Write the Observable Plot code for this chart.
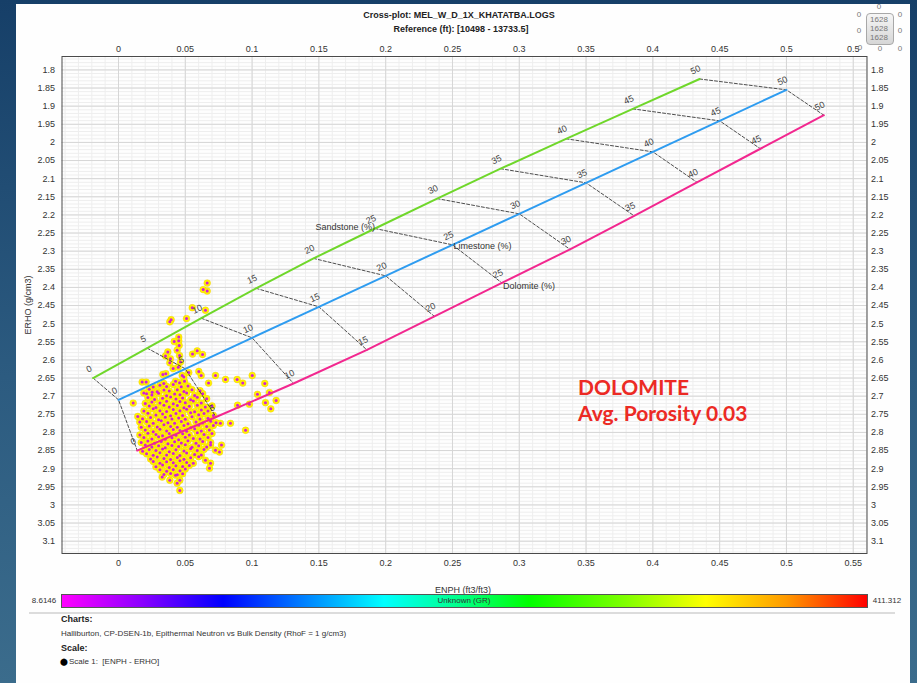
<!DOCTYPE html>
<html><head><meta charset="utf-8">
<script src="https://cdn.jsdelivr.net/npm/d3@7"></script>
<script src="https://cdn.jsdelivr.net/npm/@observablehq/plot@0.6"></script>
<style>
body{margin:0;width:917px;height:683px;overflow:hidden;position:relative;background:linear-gradient(#163f68,#2c5b80 55%,#3b6c8c);font-family:"Liberation Sans",Arial,sans-serif;}
#panel{position:absolute;left:16px;top:4px;width:894px;height:679px;background:#fefefe;}
#chart{position:absolute;left:0;top:0;}
.t{position:absolute;white-space:nowrap;color:#333;line-height:1;}
.c{transform:translate(-50%,-50%);}
</style></head><body>
<div id="panel"></div>
<div id="chart"></div>
<script>
// ---------- data ----------
const porosity = [0,5,10,15,20,25,30,35,40,45,50];
const sandEnph = [-0.019,0.0215,0.062,0.103,0.146,0.192,0.2385,0.286,0.335,0.385,0.435];
const sandRho  = [2.65,2.5675,2.485,2.4025,2.32,2.2375,2.155,2.0725,1.99,1.9075,1.825];
const limeEnph = [0,0.05,0.1,0.15,0.2,0.25,0.3,0.35,0.4,0.45,0.5];
const limeRho  = [2.71,2.6245,2.539,2.4535,2.368,2.2825,2.197,2.1115,2.026,1.9405,1.855];
const doloEnph = [0.014,0.073,0.131,0.186,0.2365,0.287,0.338,0.386,0.433,0.4805,0.528];
const doloRho  = [2.85,2.7575,2.665,2.5725,2.48,2.3875,2.295,2.2025,2.11,2.0175,1.925];

const xTicks = [0,0.05,0.1,0.15,0.2,0.25,0.3,0.35,0.4,0.45,0.5,0.55];
const yTicks = [1.8,1.85,1.9,1.95,2,2.05,2.1,2.15,2.2,2.25,2.3,2.35,2.4,2.45,2.5,2.55,2.6,2.65,2.7,2.75,2.8,2.85,2.9,2.95,3,3.05,3.1];
const topTickLabels = ["0","0.05","0.1","0.15","0.2","0.25","0.3","0.35","0.4","0.45","0.5","0.5"];

const colorStops = ["#ff00ff","#8a00ff","#0000ff","#0080ff","#00ffff","#00ff80","#00ff00","#80ff00","#ffff00","#ff9900","#ff0000"];
const colorStopPos = [0,0.1,0.2,0.3,0.4,0.5,0.58,0.7,0.8,0.9,1];
const grMin = "8.6146", grMax = "411.312";

// ENPH / ERHO samples (cloud)
const cloud = [
[0.0664,2.388],[0.0634,2.406],[0.0664,2.410],[0.0552,2.456],[0.0651,2.463],[0.0509,2.486],[0.0394,2.489],[0.0384,2.495],
[0.0451,2.537],[0.0451,2.547],[0.0417,2.549],[0.0454,2.560],[0.0369,2.578],[0.0439,2.573],[0.0554,2.584],[0.0589,2.575],
[0.0629,2.585],[0.0352,2.589],[0.0389,2.597],[0.0457,2.588],[0.0464,2.606],[0.0384,2.608],[0.0409,2.624],[0.0447,2.620],
[0.0332,2.640],[0.0354,2.638],[0.0477,2.643],[0.0526,2.635],[0.0601,2.632],[0.0619,2.643],[0.0726,2.643],[0.0801,2.654],
[0.0888,2.654],[0.1001,2.643],[0.0930,2.664],[0.1095,2.665],[0.0177,2.661],[0.0207,2.661],[0.0339,2.665],[0.0427,2.659],
[0.0457,2.663],[0.0494,2.659],[0.0489,2.647],[0.0674,2.664],[0.1130,2.690],[0.1040,2.695],[0.1180,2.712],[0.1100,2.718],
[0.0980,2.722],[0.1140,2.735],[0.0891,2.725],[0.0838,2.775],[0.0763,2.775],[0.0951,2.794],[0.0689,2.835],[0.0771,2.835],
[0.0756,2.854],[0.0726,2.849],[0.0689,2.885],[0.0681,2.899],[0.0651,2.877],[0.0459,2.932],[0.0439,2.940],[0.0459,2.960],
[0.0427,2.918],[0.0327,2.923],[0.0384,2.932],[0.0110,2.719],[0.0144,2.756],[0.0159,2.771],[0.0189,2.691],[0.0210,2.693],
[0.0252,2.689],
[0.026,2.675],[0.031,2.670],[0.036,2.673],[0.041,2.668],[0.047,2.674],[0.052,2.672],
[0.023,2.681],[0.029,2.688],[0.034,2.683],[0.038,2.686],[0.044,2.682],[0.049,2.687],[0.055,2.682],[0.061,2.685],
[0.025,2.697],[0.030,2.692],[0.036,2.699],[0.042,2.694],[0.046,2.696],[0.051,2.691],[0.057,2.698],[0.063,2.693],
[0.022,2.704],[0.027,2.709],[0.033,2.706],[0.039,2.702],[0.043,2.708],[0.048,2.705],[0.054,2.710],[0.059,2.703],[0.066,2.707],
[0.020,2.720],[0.025,2.716],[0.031,2.719],[0.036,2.714],[0.041,2.721],[0.046,2.715],[0.050,2.718],[0.056,2.713],[0.062,2.719],
[0.023,2.727],[0.028,2.731],[0.034,2.725],[0.038,2.730],[0.044,2.726],[0.049,2.732],[0.053,2.728],[0.059,2.725],[0.065,2.730],[0.070,2.727],
[0.019,2.741],[0.026,2.735],[0.031,2.740],[0.036,2.742],[0.041,2.737],[0.046,2.740],[0.051,2.736],[0.057,2.743],[0.062,2.738],[0.067,2.741],
[0.022,2.747],[0.028,2.752],[0.033,2.749],[0.039,2.754],[0.043,2.748],[0.048,2.753],[0.054,2.746],[0.060,2.751],[0.064,2.748],[0.071,2.753],
[0.018,2.762],[0.024,2.759],[0.030,2.765],[0.035,2.758],[0.040,2.763],[0.045,2.760],[0.050,2.764],[0.055,2.757],[0.061,2.763],[0.067,2.761],
[0.021,2.770],[0.026,2.775],[0.032,2.768],[0.037,2.773],[0.042,2.775],[0.047,2.770],[0.052,2.776],[0.058,2.771],[0.063,2.774],[0.069,2.769],[0.073,2.773],
[0.017,2.786],[0.023,2.782],[0.029,2.785],[0.034,2.779],[0.039,2.784],[0.044,2.786],[0.049,2.781],[0.054,2.787],[0.060,2.780],[0.066,2.784],[0.071,2.781],
[0.020,2.793],[0.026,2.798],[0.031,2.791],[0.036,2.796],[0.041,2.792],[0.046,2.795],[0.051,2.797],[0.057,2.790],[0.062,2.796],[0.068,2.793],
[0.016,2.807],[0.022,2.802],[0.028,2.806],[0.033,2.809],[0.038,2.803],[0.043,2.808],[0.048,2.804],[0.053,2.807],[0.059,2.801],[0.064,2.806],[0.070,2.803],
[0.019,2.814],[0.025,2.818],[0.030,2.812],[0.035,2.819],[0.040,2.815],[0.045,2.820],[0.050,2.813],[0.056,2.817],[0.061,2.818],[0.067,2.814],
[0.017,2.828],[0.022,2.824],[0.027,2.830],[0.032,2.825],[0.037,2.831],[0.042,2.826],[0.047,2.829],[0.052,2.823],[0.058,2.830],[0.063,2.825],[0.069,2.828],
[0.020,2.835],[0.025,2.840],[0.030,2.837],[0.035,2.842],[0.040,2.836],[0.045,2.839],[0.050,2.834],[0.055,2.841],[0.060,2.837],[0.066,2.840],
[0.018,2.852],[0.023,2.847],[0.028,2.850],[0.033,2.846],[0.038,2.853],[0.043,2.848],[0.049,2.851],[0.054,2.845],[0.059,2.850],[0.064,2.847],
[0.021,2.859],[0.026,2.863],[0.031,2.856],[0.036,2.862],[0.041,2.858],[0.046,2.864],[0.051,2.857],[0.057,2.861],[0.062,2.862],
[0.024,2.873],[0.029,2.868],[0.034,2.872],[0.039,2.875],[0.044,2.869],[0.049,2.874],[0.054,2.870],[0.060,2.867],
[0.026,2.880],[0.031,2.885],[0.036,2.881],[0.041,2.884],[0.046,2.878],[0.051,2.883],[0.056,2.885],
[0.028,2.895],[0.033,2.890],[0.038,2.897],[0.043,2.892],[0.048,2.894],[0.053,2.891],
[0.031,2.903],[0.036,2.907],[0.041,2.902],[0.046,2.906],[0.050,2.901],
[0.034,2.916],[0.039,2.913],[0.044,2.917],[0.048,2.914]
];

// ---------- build ----------
const liths = [
  {name:"Sandstone", enph:sandEnph, rho:sandRho, color:"#6fd72a"},
  {name:"Limestone", enph:limeEnph, rho:limeRho, color:"#2e9cf0"},
  {name:"Dolomite",  enph:doloEnph, rho:doloRho, color:"#f2278f"}
];
const chartPts = liths.flatMap(l => porosity.map((p,i)=>({lith:l.name, p, x:l.enph[i], y:l.rho[i]})));
const connect = porosity.flatMap((p,i)=>liths.map(l=>({p, x:l.enph[i], y:l.rho[i]})));
const labelEnd = [{text:"Sandstone (%)", x:sandEnph[5], y:sandRho[5]}];
const labelStart = [
  {text:"Limestone (%)", x:limeEnph[5], y:limeRho[5]},
  {text:"Dolomite (%)",  x:doloEnph[5], y:doloRho[5]}
];
const fmt = d => String(+d.toFixed(2));
const xMinor = d3.range(-40, 561, 10).map(v=>v/1000);
const yMinor = d3.range(1770, 3131, 10).map(v=>v/1000);

const plot = Plot.plot({
  width: 917, height: 580,
  marginLeft: 61.5, marginRight: 50.5, marginTop: 56, marginBottom: 27,
  x: {domain: [-0.0423, 0.5603]},
  y: {domain: [3.134, 1.763]},
  style: {background: "transparent", fontFamily: "Liberation Sans, Arial, sans-serif", fontSize: "9px", color: "#333", overflow: "visible"},
  marks: [
    Plot.gridX(xMinor, {stroke: "#eeeeee", strokeOpacity: 1}),
    Plot.gridY(yMinor, {stroke: "#eeeeee", strokeOpacity: 1}),
    Plot.gridX(xTicks, {stroke: "#d6d6d6", strokeOpacity: 1}),
    Plot.gridY(yTicks, {stroke: "#d6d6d6", strokeOpacity: 1}),
    Plot.axisX(xTicks, {anchor: "bottom", tickSize: 0, tickPadding: 6, label: null, tickFormat: fmt}),
    Plot.axisX(xTicks, {anchor: "top", tickSize: 0, tickPadding: 5, label: null, tickFormat: (d,i) => topTickLabels[i]}),
    Plot.axisY(yTicks, {anchor: "left", tickSize: 0, tickPadding: 7, label: null, tickFormat: fmt}),
    Plot.axisY(yTicks, {anchor: "right", tickSize: 0, tickPadding: 4, label: null, tickFormat: fmt, textAnchor: "start"}),
    Plot.dot(cloud, {x: d=>d[0], y: d=>d[1], r: 3.4, fill: "#fff200", stroke: "#f2c800", strokeWidth: 0.4}),
    Plot.dot(cloud, {x: d=>d[0], y: d=>d[1], r: 1.5, fill: "#d21fd6"}),
    Plot.line(connect, {x: "x", y: "y", z: "p", stroke: "#3a3a3a", strokeWidth: 0.9, strokeDasharray: "3,2"}),
    ...liths.map(l => Plot.line(chartPts.filter(d=>d.lith===l.name), {x:"x", y:"y", stroke: l.color, strokeWidth: 2})),
    Plot.text(chartPts, {x:"x", y:"y", text: d=>String(d.p), rotate: -25, dx: -4, dy: -9, fill: "#444", fontSize: 9}),
    Plot.text(labelEnd, {x:"x", y:"y", text:"text", textAnchor: "end", fill:"#333", fontSize: 9, dy: -1}),
    Plot.text(labelStart.slice(0,1), {x:"x", y:"y", text:"text", textAnchor: "start", fill:"#333", fontSize: 9, dx: 1, dy: 1}),
    Plot.text(labelStart.slice(1), {x:"x", y:"y", text:"text", textAnchor: "start", fill:"#333", fontSize: 9, dx: 1, dy: 3}),
    Plot.frame({stroke: "#4a4a4a"})
  ]
});
document.getElementById("chart").appendChild(plot);

// ---------- html annotations ----------
function T(txt, x, y, css, center=true){
  const d = document.createElement("div");
  d.className = "t" + (center ? " c" : "");
  d.textContent = txt;
  d.style.left = x + "px"; d.style.top = y + "px";
  Object.assign(d.style, css||{});
  document.body.appendChild(d);
  return d;
}
T("Cross-plot: MEL_W_D_1X_KHATATBA.LOGS", 459, 15, {fontWeight:"bold", fontSize:"9px", color:"#222"});
T("Reference (ft): [10498 - 13733.5]", 461, 29, {fontWeight:"bold", fontSize:"9px", color:"#222"});
T("ERHO (g/cm3)", 28, 305, {fontSize:"9px", transform:"translate(-50%,-50%) rotate(-90deg)"});
T("ENPH (ft3/ft3)", 463, 590, {fontSize:"9px"});
T("DOLOMITE", 578, 376, {fontFamily:"Lato, sans-serif", fontWeight:"bold", fontSize:"21px", color:"#ec2a24"}, false);
T("Avg. Porosity 0.03", 578, 402, {fontFamily:"Lato, sans-serif", fontWeight:"bold", fontSize:"21px", color:"#ec2a24"}, false);

// colour bar
const bar = document.createElement("div");
Object.assign(bar.style, {position:"absolute", left:"61px", top:"594px", width:"805px", height:"12px", border:"1px solid #555",
  background:"linear-gradient(to right," + colorStops.map((c,i)=>c+" "+(colorStopPos[i]*100)+"%").join(",") + ")"});
document.body.appendChild(bar);
T("Unknown (GR)", 464, 601, {fontSize:"8px", color:"#333"});
T(grMin, 44, 601, {fontSize:"8px", color:"#333"});
T(grMax, 887, 601, {fontSize:"8px", color:"#333"});
const sep = document.createElement("div");
Object.assign(sep.style, {position:"absolute", left:"29px", top:"612px", width:"866px", height:"2px", background:"#dcdcdc"});
document.body.appendChild(sep);
T("Charts:", 61, 615, {fontWeight:"bold", fontSize:"9px", color:"#222"}, false);
T("Halliburton, CP-DSEN-1b, Epithermal Neutron vs Bulk Density (RhoF = 1 g/cm3)", 61, 630, {fontSize:"8px", color:"#333"}, false);
T("Scale:", 61, 644, {fontWeight:"bold", fontSize:"9px", color:"#222"}, false);
T("\u2B24", 60, 658, {fontSize:"7px", color:"#000"}, false);
T("Scale 1:  [ENPH - ERHO]", 69, 658, {fontSize:"8px", color:"#333", whiteSpace:"pre"}, false);

// counts widget
const box = document.createElement("div");
Object.assign(box.style, {position:"absolute", left:"866px", top:"13px", width:"26px", height:"30px", border:"1px solid #a8a8a8",
  borderRadius:"4px", background:"linear-gradient(#f6f6f6,#d6d6d6)"});
document.body.appendChild(box);
["1628","1628","1628"].forEach((s,i)=>T(s, 879, 20+i*9, {fontSize:"8px", color:"#777"}));
[[879,7],[859,15],[900,15],[859,31],[900,31],[860,48],[880,49],[900,49]].forEach(([x,y])=>T("0", x, y, {fontSize:"8px", color:"#777"}));
</script>
</body></html>
